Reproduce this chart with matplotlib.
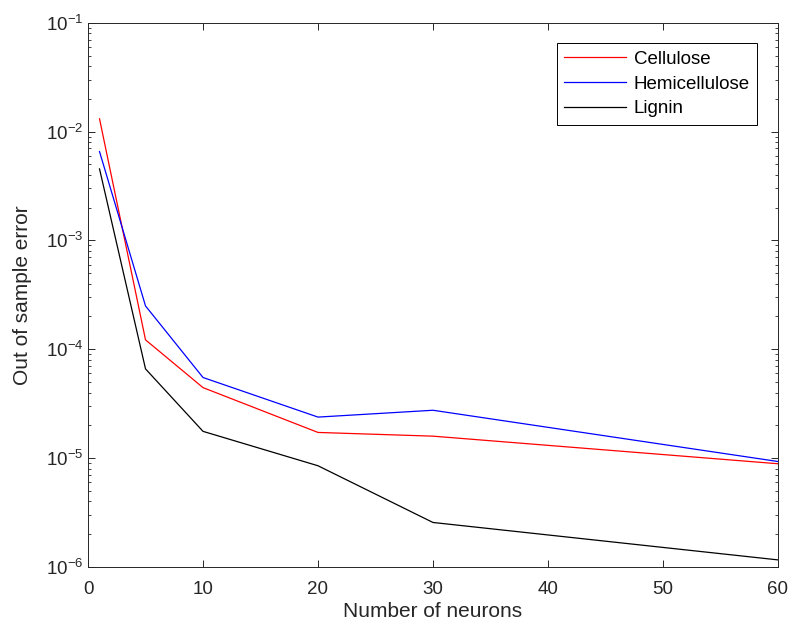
import matplotlib
matplotlib.use("Agg")
import matplotlib.pyplot as plt
from matplotlib.ticker import LogLocator

plt.rcParams['font.family'] = ['Liberation Sans', 'DejaVu Sans']

neurons = [1, 5, 10, 20, 30, 60]
cellulose = [1.31e-2, 1.22e-4, 4.44e-5, 1.72e-5, 1.59e-5, 8.87e-6]
hemicellulose = [6.55e-3, 2.5e-4, 5.5e-5, 2.38e-5, 2.75e-5, 9.3e-6]
lignin = [4.54e-3, 6.6e-5, 1.76e-5, 8.5e-6, 2.56e-6, 1.16e-6]

fig = plt.figure(figsize=(7.93, 6.32), dpi=100)
ax = fig.add_axes([0.111, 0.103, 0.870, 0.861])

ax.plot(neurons, cellulose, color="#ff0000", lw=0.9, label="Cellulose")
ax.plot(neurons, hemicellulose, color="#0000ff", lw=0.9, label="Hemicellulose")
ax.plot(neurons, lignin, color="black", lw=0.9, label="Lignin")

ax.set_yscale("log")
ax.set_xlim(0, 60)
ax.set_ylim(1e-6, 1e-1)
ax.set_xticks([0, 10, 20, 30, 40, 50, 60])
ax.yaxis.set_major_locator(LogLocator(base=10, numticks=10))
ax.yaxis.set_minor_locator(LogLocator(base=10, subs=range(2, 10), numticks=10))

ax.set_xlabel("Number of neurons", fontsize=15, color="#262626", labelpad=3)
ax.set_ylabel("Out of sample error", fontsize=15, color="#262626", labelpad=10)

ax.tick_params(which="both", direction="in", top=True, right=True,
               labelsize=13.5, colors="#262626")
ax.tick_params(axis="x", pad=10)
ax.tick_params(which="major", length=5, width=0.7)
ax.tick_params(which="minor", length=2.5, width=0.6)
for s in ax.spines.values():
    s.set_color("#262626")
    s.set_linewidth(0.7)

leg = ax.legend(loc="upper right", fontsize=13.5, fancybox=False,
                edgecolor="black", framealpha=1, handlelength=3.3,
                handletextpad=0.4, borderaxespad=1.1, labelspacing=0.4)
leg.get_frame().set_linewidth(0.7)

fig.savefig("out.png", dpi=100)
plt.close(fig)
